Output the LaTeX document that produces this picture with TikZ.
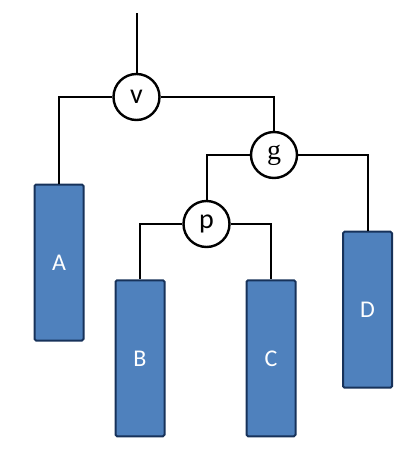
\documentclass[tikz,border=0pt]{standalone}
\usepackage{fontspec}
\setmainfont{Carlito}
\newfontfamily\gfont{Liberation Serif}
\definecolor{boxfill}{HTML}{4F81BD}
\definecolor{boxline}{HTML}{17325A}
\begin{document}
\begin{tikzpicture}[x=1pt,y=1pt,
  link/.style={line width=2pt},
  op/.style={circle,draw=black,line width=2.4pt,fill=white,minimum size=46pt,inner sep=0pt,font=\fontsize{28}{30}\selectfont},
  leaf/.style={rectangle,rounded corners=1.5pt,draw=boxline,line width=2pt,fill=boxfill,minimum width=49pt,minimum height=156pt,inner sep=0pt,text=white,font=\fontsize{24}{26}\selectfont}]
\useasboundingbox (0,0) rectangle (407,-458);
\coordinate (top) at (136.5,-13);
\node[op] (v) at (136.5,-97) {v};
\node[op] (g) at (274,-155) {\gfont g};
\node[op] (p) at (206.5,-224) {p};
\node[leaf] (A) at (59,-262.5) {A};
\node[leaf] (B) at (140,-358.3) {B};
\node[leaf] (C) at (271,-358.3) {C};
\node[leaf] (D) at (367.5,-309.7) {D};
\draw[link] (top) -- (v.north);
\draw[link] (v.west) -| (A.north);
\draw[link] (v.east) -| (g.north);
\draw[link] (g.west) -| (p.north);
\draw[link] (g.east) -| (D.north);
\draw[link] (p.west) -| (B.north);
\draw[link] (p.east) -| (C.north);
\end{tikzpicture}
\end{document}
